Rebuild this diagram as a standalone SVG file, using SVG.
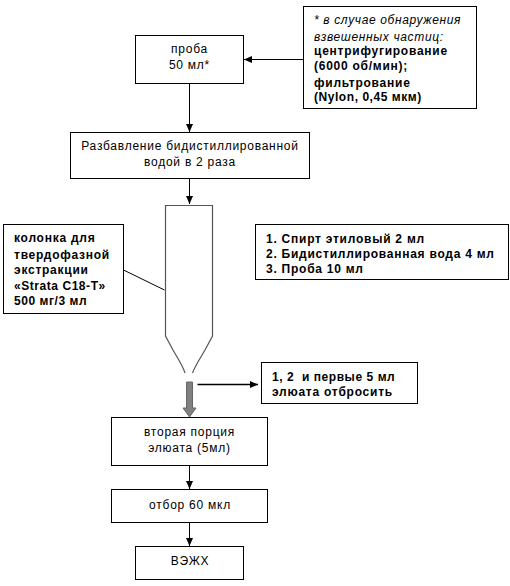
<svg xmlns="http://www.w3.org/2000/svg" width="510" height="586" viewBox="0 0 510 586">
<style>
.b{fill:#fff;stroke:#000;stroke-width:1}
.c{fill:none;stroke:#000;stroke-width:1}
.o{fill:none;stroke:#555;stroke-width:1.2}
text{font-family:"Liberation Sans",Arial,sans-serif;font-size:12px;fill:#000;letter-spacing:.75px;white-space:pre}
.m{text-anchor:middle}
.h{font-weight:bold}
.i{font-style:italic;letter-spacing:.65px}
.t{letter-spacing:.55px}
</style>
<defs>
<marker id="a" markerUnits="userSpaceOnUse" markerWidth="8" markerHeight="7" refX="8" refY="3.500" orient="auto"><path d="M0 0L8 3.500L0 7z" fill="#000"/></marker>
</defs>
<rect width="510" height="586" fill="#fff"/>
<g id="connectors">
<path class="c" marker-end="url(#a)" d="M303.500 59.500H244"/>
<path class="c" marker-end="url(#a)" d="M189.500 83V132"/>
<path class="c" marker-end="url(#a)" d="M189.500 178V204"/>
<path class="c" d="M123.500 270L164.500 290"/>
<path d="M197.500 384.500H258" fill="none" stroke="#000" stroke-width="1.500" marker-end="url(#a)"/>
<path class="c" marker-end="url(#a)" d="M189.500 465V489"/>
<path class="c" marker-end="url(#a)" d="M189.500 522.500V546"/>
<path d="M186.500 382H192.500V408H196L189.500 417L183 408H186.500z" fill="#808080" stroke="#666" stroke-width="1"/>
</g>
<g id="column">
<path class="o" d="M185 373C183 366 177 357 173 350L165.500 336V205.500H212.500V336L205 350C201 357 195 366 192.500 373"/>
</g>
<g id="sample"><rect class="b" x="135.500" y="35.500" width="108" height="48"/>
<text class="m" x="189.500" y="53">проба</text><text class="m" x="189.500" y="69">50 мл*</text></g>
<g id="note"><rect class="b" x="303.500" y="6.500" width="173" height="102"/>
<text class="i" x="314" y="24">* в случае обнаружения</text>
<text class="i" x="314" y="41">взвешенных частиц:</text>
<text class="h" x="314" y="55">центрифугирование</text>
<text class="h" x="314" y="70">(6000 об/мин);</text>
<text class="h" x="314" y="87">фильтрование</text>
<text class="h t" x="314" y="101">(Nylon, 0,45 мкм)</text></g>
<g id="dilution"><rect class="b" x="70.500" y="132.500" width="239" height="46"/>
<text class="m" x="190" y="150">Разбавление бидистиллированной</text>
<text class="m" x="190" y="166">водой в 2 раза</text></g>
<g id="cartridge"><rect class="b" x="3.500" y="224.500" width="120" height="89"/>
<text class="h" x="14" y="242">колонка для</text>
<text class="h" x="14" y="259">твердофазной</text>
<text class="h" x="14" y="274">экстракции</text>
<text class="h t" x="14" y="290">«Strata C18-T»</text>
<text class="h t" x="14" y="305">500 мг/3 мл</text></g>
<g id="steps"><rect class="b" x="255.500" y="224.500" width="253" height="55"/>
<text class="h" x="266" y="243">1. Спирт этиловый 2 мл</text>
<text class="h" x="266" y="258">2. Бидистиллированная вода 4 мл</text>
<text class="h" x="266" y="273">3. Проба 10 мл</text></g>
<g id="discard"><rect class="b" x="261.500" y="362.500" width="156" height="41"/>
<text class="h t" x="272" y="381" xml:space="preserve">1, 2  и первые 5 мл</text>
<text class="h" x="272" y="396">элюата отбросить</text></g>
<g id="second"><rect class="b" x="111.500" y="417.500" width="156" height="48"/>
<text class="m" x="189.500" y="436">вторая порция</text>
<text class="m" x="189.500" y="452">элюата (5мл)</text></g>
<g id="aliquot"><rect class="b" x="111.500" y="489.500" width="156" height="33"/>
<text class="m" x="190" y="509">отбор 60 мкл</text></g>
<g id="hplc"><rect class="b" x="135.500" y="546.500" width="108" height="33"/>
<text class="m" x="190" y="565">ВЭЖХ</text></g>
</svg>
